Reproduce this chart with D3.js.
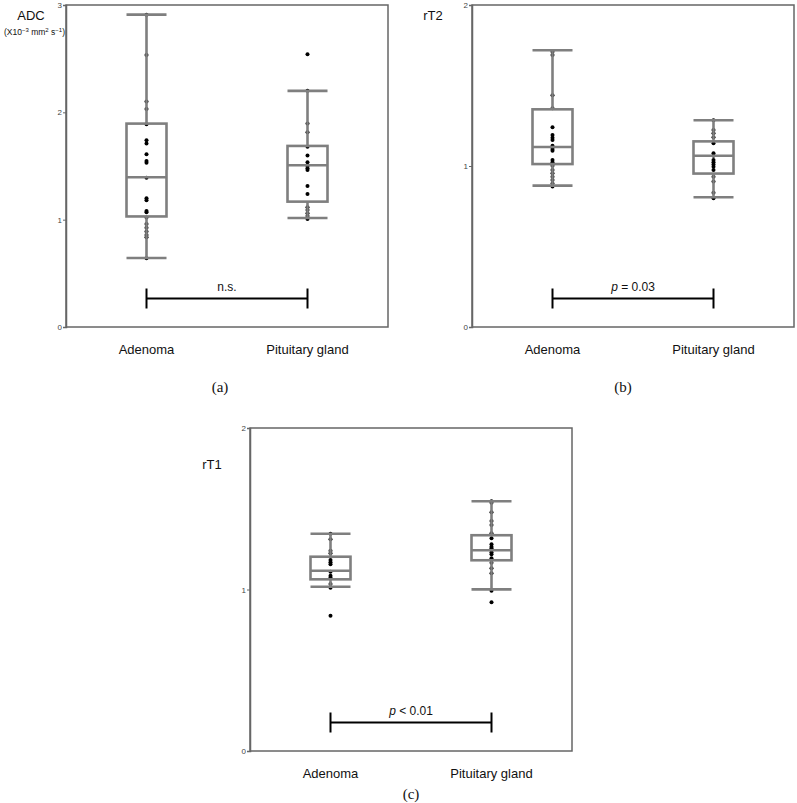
<!DOCTYPE html>
<html>
<head>
<meta charset="utf-8">
<script src="https://cdn.jsdelivr.net/npm/d3@7"></script>
<style>
  html, body { margin: 0; padding: 0; background: #fff; }
  svg { display: block; }
</style>
</head>
<body>
<svg id="chart" width="797" height="803"></svg>
<script>
// ---------------- DATA ----------------
const categories = ["Adenoma", "Pituitary gland"];

// box stats: [lower whisker, Q1, median, Q3, upper whisker]
const adcAdenomaBox   = [0.643, 1.03, 1.395, 1.895, 2.91];
const adcPituitaryBox = [1.016, 1.168, 1.507, 1.687, 2.20];
const adcAdenomaPts   = [2.91, 2.535, 2.10, 2.03, 1.89, 1.74, 1.71, 1.61, 1.547, 1.53, 1.39, 1.20, 1.18, 1.08, 1.07, 1.02, 0.96, 0.925, 0.89, 0.857, 0.836, 0.64];
const adcPituitaryPts = [2.54, 2.20, 1.895, 1.815, 1.68, 1.597, 1.535, 1.50, 1.48, 1.463, 1.314, 1.24, 1.115, 1.09, 1.06, 1.034, 1.006];

const rt2AdenomaBox   = [0.878, 1.012, 1.118, 1.352, 1.719];
const rt2PituitaryBox = [0.806, 0.953, 1.064, 1.153, 1.284];
const rt2AdenomaPts   = [1.71, 1.69, 1.44, 1.358, 1.24, 1.193, 1.176, 1.161, 1.126, 1.106, 1.095, 1.037, 1.023, 1.002, 0.975, 0.955, 0.934, 0.913, 0.892, 0.872];
const rt2PituitaryPts = [1.284, 1.224, 1.203, 1.178, 1.141, 1.079, 1.064, 1.037, 1.023, 1.01, 0.996, 0.975, 0.934, 0.903, 0.834, 0.799];

const rt1AdenomaBox   = [1.017, 1.063, 1.116, 1.203, 1.345];
const rt1PituitaryBox = [1.001, 1.181, 1.243, 1.336, 1.546];
const rt1AdenomaPts   = [1.345, 1.311, 1.240, 1.224, 1.183, 1.168, 1.156, 1.11, 1.085, 1.075, 1.034, 1.011, 0.838];
const rt1PituitaryPts = [1.546, 1.537, 1.478, 1.424, 1.399, 1.348, 1.317, 1.28, 1.265, 1.255, 1.23, 1.218, 1.193, 1.166, 1.131, 1.10, 0.993, 0.921];

const adcTicks = [0, 1, 2, 3];
const rTicks   = [0, 1, 2];
const adcMax = 3;
const rMax = 2;

const significance = ["n.s.", "p = 0.03", "p < 0.01"];
const captions = ["(a)", "(b)", "(c)"];

// ---------------- DRAW ----------------
const svg = d3.select("#chart");
const FONT = "'Liberation Sans', Arial, Helvetica, sans-serif";
const SERIF = "'Liberation Serif', 'Times New Roman', serif";
const boxColor = "#7f7f7f";
const frameColor = "#666";

const panels = [
  { x0: 66, x1: 388, y0: 5, y1: 327, max: adcMax, ticks: adcTicks,
    boxes: [adcAdenomaBox, adcPituitaryBox], pts: [adcAdenomaPts, adcPituitaryPts],
    sig: significance[0], italicP: false, cap: captions[0], capX: 220, capY: 392 },
  { x0: 472, x1: 794, y0: 5, y1: 327, max: rMax, ticks: rTicks,
    boxes: [rt2AdenomaBox, rt2PituitaryBox], pts: [rt2AdenomaPts, rt2PituitaryPts],
    sig: significance[1], italicP: true, cap: captions[1], capX: 623, capY: 392 },
  { x0: 250, x1: 572, y0: 428, y1: 751, max: rMax, ticks: rTicks,
    boxes: [rt1AdenomaBox, rt1PituitaryBox], pts: [rt1AdenomaPts, rt1PituitaryPts],
    sig: significance[2], italicP: true, cap: captions[2], capX: 411, capY: 799 }
];

panels.forEach(p => {
  const g = svg.append("g");
  const x = d3.scalePoint().domain(categories).range([p.x0, p.x1]).padding(0.5);
  const y = d3.scaleLinear().domain([0, p.max]).range([p.y1, p.y0]);

  // frame
  g.append("rect")
    .attr("x", p.x0).attr("y", p.y0)
    .attr("width", p.x1 - p.x0).attr("height", p.y1 - p.y0)
    .attr("fill", "none").attr("stroke", frameColor).attr("stroke-width", 1.5);

  // y axis
  const axis = d3.axisLeft(y).tickValues(p.ticks).tickFormat(d3.format("d")).tickSize(3).tickPadding(1);
  const ag = g.append("g").attr("transform", `translate(${p.x0},0)`).call(axis);
  ag.select(".domain").attr("stroke", frameColor).attr("stroke-width", 1.5);
  ag.selectAll(".tick line").attr("stroke", frameColor);
  ag.selectAll(".tick text").attr("font-family", FONT).attr("font-size", 8).attr("fill", "#444");

  const bw = 40;
  categories.forEach((c, i) => {
    const cx = x(c);
    const b = p.boxes[i];
    // points (drawn beneath the box lines)
    g.selectAll(null).data(p.pts[i]).enter().append("circle")
      .attr("cx", cx).attr("cy", d => y(d)).attr("r", 2)
      .attr("fill", "#000");
    const lines = g.append("g").attr("stroke", boxColor).attr("stroke-width", 2.6).attr("fill", "none");
    // whiskers
    lines.append("line").attr("x1", cx).attr("x2", cx).attr("y1", y(b[0])).attr("y2", y(b[1]));
    lines.append("line").attr("x1", cx).attr("x2", cx).attr("y1", y(b[3])).attr("y2", y(b[4]));
    // caps
    lines.append("line").attr("x1", cx - bw / 2).attr("x2", cx + bw / 2).attr("y1", y(b[0])).attr("y2", y(b[0]));
    lines.append("line").attr("x1", cx - bw / 2).attr("x2", cx + bw / 2).attr("y1", y(b[4])).attr("y2", y(b[4]));
    // box
    lines.append("rect").attr("x", cx - bw / 2).attr("y", y(b[3]))
      .attr("width", bw).attr("height", y(b[1]) - y(b[3]));
    // median
    lines.append("line").attr("x1", cx - bw / 2).attr("x2", cx + bw / 2).attr("y1", y(b[2])).attr("y2", y(b[2]));

    // category label
    g.append("text").attr("x", cx).attr("y", p.y1 + 27)
      .attr("text-anchor", "middle").attr("font-family", FONT).attr("font-size", 13)
      .attr("fill", "#111").text(c);
  });

  // significance bar
  const xa = x(categories[0]), xb = x(categories[1]);
  const by = p.y1 - 28.5;
  const sg = g.append("g").attr("stroke", "#000").attr("stroke-width", 2);
  sg.append("line").attr("x1", xa).attr("x2", xb).attr("y1", by).attr("y2", by);
  sg.append("line").attr("x1", xa).attr("x2", xa).attr("y1", by - 10).attr("y2", by + 10);
  sg.append("line").attr("x1", xb).attr("x2", xb).attr("y1", by - 10).attr("y2", by + 10);
  const st = g.append("text").attr("x", (xa + xb) / 2).attr("y", by - 8)
    .attr("text-anchor", "middle").attr("font-family", FONT).attr("font-size", 12).attr("fill", "#111");
  if (p.italicP) {
    st.append("tspan").attr("font-style", "italic").text(p.sig.slice(0, 1));
    st.append("tspan").text(p.sig.slice(1));
  } else {
    st.text(p.sig);
  }

  // caption
  g.append("text").attr("x", p.capX).attr("y", p.capY)
    .attr("text-anchor", "middle").attr("font-family", SERIF).attr("font-size", 15)
    .attr("fill", "#111").text(p.cap);
});

// y-axis titles
svg.append("text").attr("x", 31).attr("y", 20).attr("text-anchor", "middle")
  .attr("font-family", FONT).attr("font-size", 13).attr("fill", "#111").text("ADC");
const unit = svg.append("text").attr("x", 65).attr("y", 35).attr("text-anchor", "end")
  .attr("font-family", FONT).attr("font-size", 8.5).attr("fill", "#111");
unit.append("tspan").text("(X10");
unit.append("tspan").attr("font-size", 6).attr("dy", -3).text("−3");
unit.append("tspan").attr("dy", 3).text(" mm");
unit.append("tspan").attr("font-size", 6).attr("dy", -3).text("2");
unit.append("tspan").attr("dy", 3).text(" s");
unit.append("tspan").attr("font-size", 6).attr("dy", -3).text("−1");
unit.append("tspan").attr("dy", 3).text(")");

svg.append("text").attr("x", 433).attr("y", 20).attr("text-anchor", "middle")
  .attr("font-family", FONT).attr("font-size", 13).attr("fill", "#111").text("rT2");
svg.append("text").attr("x", 212).attr("y", 469).attr("text-anchor", "middle")
  .attr("font-family", FONT).attr("font-size", 13).attr("fill", "#111").text("rT1");
</script>
</body>
</html>
